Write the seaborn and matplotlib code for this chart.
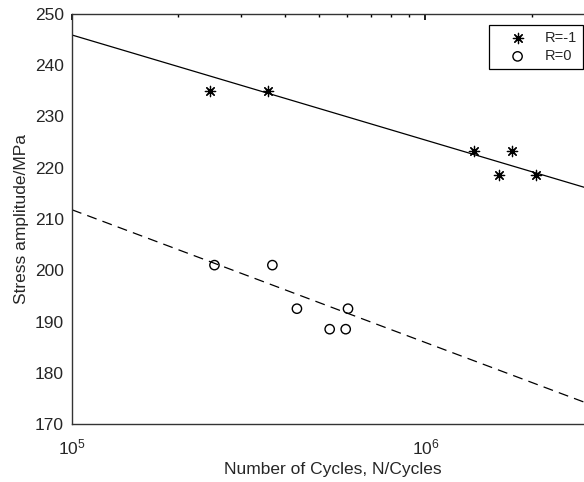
import numpy as np
import pandas as pd
import matplotlib
matplotlib.use("Agg")
import matplotlib.pyplot as plt
import seaborn as sns

# Data
cycles_rm1 = [2.46e5, 3.58e5, 1.37e6, 1.76e6, 1.62e6, 2.05e6]
stress_rm1 = [235.0, 235.0, 223.3, 223.3, 218.6, 218.6]
cycles_r0 = [2.53e5, 3.69e5, 4.33e5, 5.36e5, 5.95e5, 6.04e5]
stress_r0 = [201.0, 201.0, 192.5, 188.5, 188.5, 192.5]

# Fitted lines: S = a + b*log10(N)
fit_rm1 = (348.4, -20.5)
fit_r0 = (341.3, -25.9)

x_limits = [1e5, 3e6]
y_limits = [170, 250]
y_ticks = [170, 180, 190, 200, 210, 220, 230, 240, 250]

sns.set_theme(style="white")
plt.rcParams['font.family'] = ['Liberation Sans', 'DejaVu Sans']
plt.rcParams['mathtext.default'] = 'regular'

fig = plt.figure(figsize=(5.84, 4.82), dpi=100)
ax = fig.add_axes([72/584, 1-424/482, 522/584, 410/482])

df1 = pd.DataFrame({"N": cycles_rm1, "S": stress_rm1})
df0 = pd.DataFrame({"N": cycles_r0, "S": stress_r0})

ngrid = np.logspace(5, np.log10(3e6), 100)
line1 = pd.DataFrame({"N": ngrid, "S": fit_rm1[0] + fit_rm1[1]*np.log10(ngrid)})
line0 = pd.DataFrame({"N": ngrid, "S": fit_r0[0] + fit_r0[1]*np.log10(ngrid)})

sns.lineplot(data=line1, x="N", y="S", ax=ax, color="black", lw=0.9, legend=False)
sns.lineplot(data=line0, x="N", y="S", ax=ax, color="black", lw=0.9, legend=False,
             linestyle=(0, (8, 5)))

ast = (8, 2, 0)
sns.scatterplot(data=df1, x="N", y="S", ax=ax, marker=ast, s=55, color="black",
                linewidth=0.9, edgecolor="black", label="R=-1")
sns.scatterplot(data=df0, x="N", y="S", ax=ax, marker="o", s=45, facecolor="none",
                edgecolor="black", linewidth=1.0, label="R=0")

ax.set_xscale("log")
ax.set_xlim(x_limits)
ax.set_ylim(y_limits)
ax.set_yticks(y_ticks)
ax.set_xlabel("Number of Cycles, N/Cycles", fontsize=12.5, labelpad=3)
ax.set_ylabel("Stress amplitude/MPa", fontsize=12.5, labelpad=4)
ax.tick_params(axis="both", which="both", direction="in", top=True, right=True,
               labelsize=12.5, color="black")
ax.tick_params(axis="x", which="major", length=4, pad=10)
ax.tick_params(axis="x", which="minor", length=2.5)
ax.tick_params(axis="y", which="major", length=0, pad=6)
for sp in ax.spines.values():
    sp.set_color("#333333")
    sp.set_linewidth(1.0)

leg = ax.legend(loc="upper right", bbox_to_anchor=(583/584, 1-25/482),
                bbox_transform=fig.transFigure, frameon=True, fancybox=False,
                fontsize=10.5, borderpad=0.4, handletextpad=0.3, labelspacing=0.3,
                handlelength=3.15, borderaxespad=0, edgecolor="black", framealpha=1)
leg.get_frame().set_linewidth(0.9)

fig.savefig("out.png", dpi=100)
